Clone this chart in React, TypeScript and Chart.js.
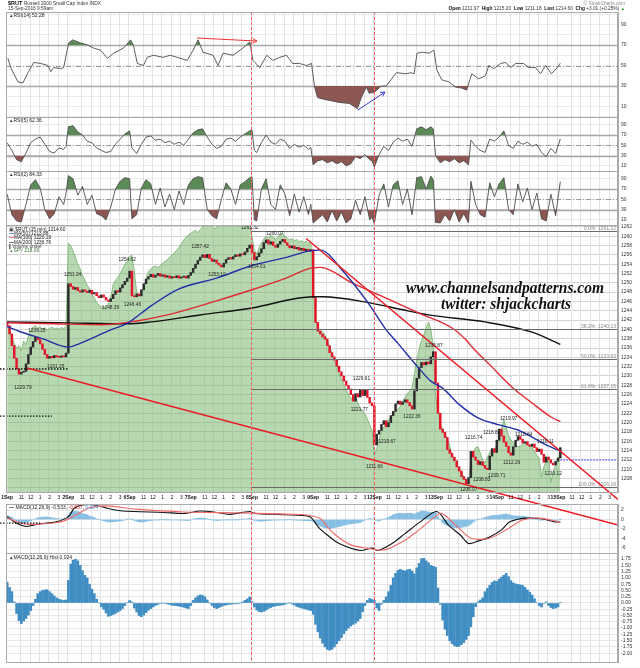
import React, { useEffect, useRef } from "react";
import { Chart, registerables } from "chart.js";
Chart.register(...registerables);

// ---------- axis / category data ----------
const dayLabels = ["1Sep", "2Sep", "6Sep", "7Sep", "8Sep", "9Sep", "12Sep", "13Sep", "14Sep", "15Sep"];
const hourLabels = ["11", "12", "1", "2", "3"];
const hourBars = [6, 10, 14, 18, 22];
const barsPerDay = 26;

const priceTicks = [1206, 1208, 1210, 1212, 1214, 1216, 1218, 1220, 1222, 1224, 1226, 1228, 1230, 1232, 1234, 1236, 1238, 1240, 1242, 1244, 1246, 1248, 1250, 1252, 1254, 1256, 1258, 1260, 1262];
const rsi14Ticks = [0, 10, 20, 30, 40, 50, 60, 70, 80, 90, 100];
const rsiShort = [10, 30, 50, 70, 90];
const macdTicks = [-6, -4, -2, 0, 2];
const histTicks = [-2.0, -1.75, -1.5, -1.25, -1.0, -0.75, -0.5, -0.25, 0, 0.25, 0.5, 0.75, 1.0, 1.25, 1.5, 1.75];

// ---------- price (15 min closes) ----------
const firstOpen = 1241.6;
const closes = [
  1240.8, 1239.0, 1236.5, 1233.8, 1231.5, 1230.4, 1230.8, 1231.0, 1232.6, 1234.6, 1236.2, 1237.4, 1238.3, 1237.8, 1236.9, 1235.7, 1234.6, 1233.8, 1234.2, 1233.9, 1234.4, 1234.1, 1234.0, 1234.3, 1234.1, 1234.9,
  1249.8, 1249.2, 1248.6, 1249.0, 1248.3, 1248.0, 1248.5, 1248.2, 1247.9, 1248.4, 1247.6, 1247.9, 1247.2, 1246.8, 1247.4, 1246.9, 1246.3, 1246.0, 1246.6, 1247.5, 1248.3, 1248.0, 1248.9, 1249.6, 1250.3, 1251.0,
  1252.5, 1247.2, 1247.0, 1247.6, 1247.2, 1248.5, 1249.8, 1250.8, 1251.3, 1251.8, 1251.2, 1251.6, 1252.0, 1251.4, 1251.7, 1251.2, 1251.5, 1251.0, 1251.3, 1251.1, 1251.5, 1251.0, 1251.2, 1251.4, 1251.0, 1251.6,
  1252.2, 1253.1, 1254.0, 1254.8, 1255.5, 1256.0, 1255.4, 1256.1, 1255.2, 1254.6, 1254.9, 1254.2, 1253.8, 1253.4, 1254.2, 1255.0, 1255.4, 1255.1, 1255.6, 1256.0, 1255.7, 1256.2, 1256.0, 1256.6, 1257.4, 1258.1,
  1256.5, 1254.9, 1255.6, 1256.4, 1257.3, 1258.6, 1259.2, 1258.3, 1258.8, 1258.0, 1257.6, 1258.3, 1258.9, 1259.3, 1258.6, 1258.0, 1257.5, 1257.9, 1257.3, 1257.6, 1257.0, 1257.4, 1256.9, 1257.2, 1256.8, 1257.1,
  1246.8, 1241.5, 1239.6, 1239.0, 1238.4, 1237.9, 1236.5, 1235.0, 1234.1, 1233.4, 1232.1, 1230.9, 1230.0, 1228.9, 1228.0, 1227.2, 1226.0, 1224.6, 1226.2, 1225.5, 1227.1, 1225.8, 1226.9, 1225.4, 1224.2, 1223.6,
  1215.2, 1217.5, 1218.3, 1219.6, 1220.4, 1219.1, 1220.0, 1221.5, 1222.4, 1224.0, 1224.6, 1223.9, 1224.4, 1224.9, 1224.3, 1223.6, 1222.9, 1226.8, 1229.5, 1231.8, 1232.9, 1232.4, 1233.0, 1232.6, 1234.1, 1235.2,
  1228.5, 1222.0, 1218.6, 1217.9, 1216.8, 1214.2, 1213.4, 1212.6, 1211.8, 1210.5, 1209.6, 1208.4, 1207.8, 1206.9, 1208.2, 1213.8, 1212.6, 1211.9, 1211.0, 1211.6, 1210.8, 1210.2, 1209.9, 1212.8, 1214.4, 1213.6,
  1216.2, 1218.6, 1217.1, 1215.8, 1214.9, 1213.5, 1213.0, 1214.8, 1216.2, 1217.0, 1216.4, 1215.6, 1215.9, 1215.2, 1214.9, 1215.4, 1214.6, 1213.8, 1214.3, 1213.2, 1211.5, 1212.6, 1212.0, 1211.3, 1210.9, 1211.7,
  1212.4, 1214.6,
];

// SPY comparison area (drawn on the price scale)
const spyArea = [
  1241.0, 1240.0, 1238.5, 1237.0, 1236.0, 1236.5, 1235.5, 1237.5, 1236.8, 1238.5, 1239.8, 1240.5, 1240.8, 1240.2, 1240.6, 1240.0, 1240.4, 1239.8, 1240.2, 1240.5, 1240.1, 1240.3, 1240.0, 1240.4, 1240.2, 1240.6,
  1258.5, 1258.0, 1256.8, 1255.5, 1254.0, 1253.0, 1251.6, 1250.6, 1249.4, 1248.9, 1247.5, 1246.8, 1245.8, 1245.2, 1244.8, 1244.9, 1244.7, 1245.5, 1246.8, 1249.6, 1250.5, 1251.2, 1252.0, 1253.0, 1253.9, 1254.6,
  1255.6, 1255.9, 1252.5, 1248.2, 1247.0, 1247.9, 1248.7, 1251.0, 1252.4, 1253.0, 1253.4, 1253.6, 1253.3, 1253.6, 1254.2, 1254.6, 1254.9, 1255.5, 1256.0, 1256.4, 1257.0, 1257.6, 1258.4, 1259.2, 1259.8, 1260.3,
  1260.6, 1261.0, 1261.3, 1260.8, 1261.4, 1262.0, 1262.4, 1262.4, 1262.4, 1262.4, 1261.6, 1261.9, 1262.4, 1262.4, 1262.4, 1262.4, 1262.4, 1262.4, 1262.4, 1262.4, 1262.4, 1262.4, 1262.4, 1262.4, 1262.4, 1262.4,
  1260.0, 1257.0, 1256.2, 1257.5, 1258.5, 1259.4, 1260.0, 1259.6, 1260.2, 1259.8, 1259.4, 1259.9, 1260.3, 1260.6, 1260.1, 1259.6, 1259.2, 1259.5, 1259.0, 1259.3, 1258.8, 1259.1, 1258.6, 1258.9, 1258.4, 1258.7,
  1249.0, 1242.5, 1240.2, 1239.8, 1239.5, 1238.8, 1237.6, 1236.3, 1235.0, 1233.5, 1232.5, 1230.6, 1229.4, 1228.2, 1227.0, 1226.1, 1225.2, 1224.7, 1225.4, 1224.2, 1223.0, 1222.6, 1221.9, 1220.8, 1219.6, 1218.5,
  1213.0, 1214.5, 1216.5, 1218.0, 1219.0, 1219.8, 1220.6, 1221.2, 1221.8, 1222.6, 1222.8, 1223.5, 1224.6, 1225.4, 1226.2, 1226.8, 1227.4, 1230.5, 1233.5, 1235.8, 1237.6, 1238.8, 1240.4, 1241.6, 1240.0, 1236.5,
  1226.0, 1222.5, 1219.8, 1218.6, 1217.6, 1216.5, 1215.0, 1213.0, 1211.6, 1210.8, 1210.0, 1209.3, 1208.4, 1207.5, 1207.0, 1212.5, 1213.8, 1214.6, 1214.8, 1213.5, 1212.0, 1211.3, 1212.5, 1213.6, 1214.2, 1214.0,
  1215.2, 1216.0, 1218.8, 1220.6, 1219.0, 1217.2, 1216.3, 1215.8, 1215.2, 1214.8, 1215.0, 1215.4, 1215.6, 1215.6, 1215.2, 1214.6, 1213.8, 1213.0, 1212.4, 1208.4, 1210.5, 1212.0, 1212.6, 1207.2, 1209.5, 1211.0,
  1211.4, 1214.8,
];

// moving averages: [bar, value]
const ma50 = [[0, 1240.6], [5, 1239.6], [15, 1238.0], [26, 1236.2], [30, 1236.8], [44, 1239.9], [51, 1241.3], [61, 1245.0], [73, 1248.7], [89, 1251.0], [104, 1253.7], [119, 1255.5], [128, 1256.8], [133, 1257.0], [143, 1252.3], [154, 1245.2], [161, 1239.9], [166, 1237.0], [174, 1232.2], [180, 1228.9], [185, 1227.4], [192, 1223.9], [200, 1221.0], [209, 1219.5], [217, 1218.4], [223, 1216.9], [229, 1215.2], [235, 1213.9]];
const ma100 = [[0, 1241.4], [20, 1241.2], [40, 1241.0], [55, 1241.8], [68, 1243.1], [87.5, 1245.9], [104, 1248.5], [118.5, 1251.0], [129.5, 1253.2], [133, 1253.3], [146.5, 1250.0], [161, 1246.7], [175, 1243.5], [189, 1240.3], [195, 1237.7], [197.5, 1236.2], [206, 1231.9], [214.5, 1227.6], [223, 1224.2], [231, 1221.2], [235, 1220.2]];
const ma200 = [[0, 1241.6], [26, 1241.4], [51, 1241.2], [61, 1241.6], [82, 1243.1], [104, 1244.6], [130, 1247.0], [134, 1247.0], [154, 1245.7], [168, 1244.2], [179, 1243.1], [203, 1241.6], [223, 1239.4], [235, 1236.8]];

// RSI series: [bar, value]
const rsi14 = [[0.3, 57], [1.6, 47.5], [4.6, 34], [6.7, 33], [8.8, 43], [11.3, 53], [14.3, 52], [17.3, 50], [18.5, 44], [19.8, 48], [22.8, 47], [24, 48], [26.1, 72], [27.8, 75], [31.2, 72], [34.2, 70], [36.7, 67], [39.7, 65], [42.6, 57], [45.2, 62], [49.4, 67], [52.4, 75], [53.6, 70], [55.3, 52], [57.9, 50], [59.5, 58], [62.1, 60], [66.3, 58], [69.3, 60], [72.2, 58], [76.5, 55], [79, 65], [81.1, 75], [83.2, 63], [87.5, 60], [89.6, 50], [91.7, 62], [96, 60], [100.1, 67], [103.1, 73], [104.4, 55], [107.3, 48], [110.3, 60], [112.8, 55], [115.8, 58], [118.7, 60], [121.3, 52], [124.2, 52], [127.2, 50], [129.3, 52], [130.6, 29], [131.8, 19], [132.7, 18], [136.9, 16], [141.1, 14], [145.4, 13], [148.8, 8], [150.5, 19], [152.6, 29], [153.8, 23], [156, 24], [158.9, 30], [161, 30], [165.3, 43], [169.5, 42], [171.6, 43], [172.9, 42], [174.1, 62], [176.2, 63], [179.2, 62], [181.3, 65], [182.6, 45], [184.7, 36], [187.7, 34], [190.5, 29], [193.1, 28], [195.2, 26], [197.4, 42], [200.3, 37], [203.2, 40], [204.6, 50], [206.7, 47], [209.6, 52], [211.8, 53], [213.9, 48], [216, 52], [219.4, 52], [221.5, 48], [224.5, 48], [226.6, 42], [228.7, 50], [231.2, 42], [233.4, 47], [235, 52.28]];
const rsi5 = [[0, 55], [2, 40], [4, 22], [6, 18], [8, 35], [10, 55], [12, 62], [14, 66], [16, 52], [18, 38], [20, 35], [22, 45], [24, 42], [25, 48], [26, 86], [28, 88], [30, 76], [32, 70], [34, 58], [36, 55], [38, 45], [40, 40], [42, 36], [44, 38], [46, 52], [48, 62], [50, 72], [52, 78], [53, 45], [55, 34], [57, 52], [59, 66], [61, 68], [63, 60], [65, 62], [67, 55], [69, 58], [71, 52], [73, 56], [75, 50], [77, 62], [79, 74], [81, 80], [83, 82], [85, 66], [87, 52], [89, 44], [91, 48], [93, 62], [95, 64], [97, 58], [99, 66], [101, 72], [103, 78], [104, 80], [105, 40], [106, 36], [108, 55], [110, 70], [112, 56], [114, 52], [116, 62], [118, 58], [120, 44], [122, 52], [124, 46], [126, 50], [128, 42], [129, 46], [130, 12], [132, 20], [134, 22], [136, 16], [138, 20], [140, 14], [142, 18], [144, 10], [146, 14], [148, 28], [150, 24], [152, 32], [154, 22], [155, 20], [156, 8], [158, 32], [160, 48], [162, 40], [164, 56], [166, 64], [168, 58], [170, 62], [172, 48], [174, 82], [176, 86], [178, 80], [180, 86], [181, 82], [182, 30], [184, 16], [186, 22], [188, 18], [190, 24], [192, 16], [194, 20], [196, 12], [197, 60], [199, 48], [201, 40], [203, 36], [205, 62], [207, 58], [209, 66], [211, 78], [213, 50], [215, 44], [217, 58], [219, 52], [221, 56], [223, 48], [225, 52], [227, 36], [229, 28], [231, 44], [233, 34], [235, 62.36]];
const rsi2 = [[0, 60], [2, 20], [4, 8], [6, 6], [8, 40], [10, 78], [12, 88], [14, 72], [16, 30], [18, 12], [20, 22], [22, 55], [24, 40], [25, 62], [26, 96], [28, 90], [30, 58], [32, 75], [34, 40], [36, 58], [38, 22], [40, 18], [42, 10], [44, 35], [46, 70], [48, 85], [50, 92], [52, 90], [53, 12], [55, 20], [57, 72], [59, 88], [61, 80], [63, 40], [65, 72], [67, 35], [69, 60], [71, 30], [73, 66], [75, 40], [77, 78], [79, 90], [81, 94], [83, 92], [85, 30], [87, 18], [89, 12], [91, 50], [93, 82], [95, 70], [97, 40], [99, 78], [101, 84], [103, 92], [104, 94], [105, 10], [106, 8], [108, 70], [110, 90], [112, 40], [114, 30], [116, 78], [118, 60], [120, 18], [122, 60], [124, 25], [126, 55], [128, 20], [129, 40], [130, 4], [132, 12], [134, 20], [136, 6], [138, 28], [140, 8], [142, 25], [144, 4], [146, 12], [148, 48], [150, 20], [152, 55], [154, 10], [155, 15], [156, 3], [158, 58], [160, 80], [162, 35], [164, 78], [166, 86], [168, 40], [170, 70], [172, 20], [174, 92], [176, 94], [178, 70], [180, 95], [181, 88], [182, 5], [184, 4], [186, 20], [188, 8], [190, 30], [192, 6], [194, 22], [196, 4], [197, 85], [199, 40], [201, 20], [203, 15], [205, 82], [207, 55], [209, 80], [211, 92], [213, 30], [215, 20], [217, 80], [219, 45], [221, 72], [223, 30], [225, 62], [227, 12], [229, 8], [231, 60], [233, 18], [235, 84.33]];

// MACD(12,26,9): [bar, value]
const macdLine = [[0, 0.6], [4, -0.8], [8, -1.5], [11, -1.2], [16, -0.8], [21, -0.5], [26, 0.6], [28.5, 2.4], [32, 3.1], [37, 3.1], [42.5, 2.4], [49, 1.8], [66.5, 1.5], [75.5, 1.3], [82, 1.8], [89, 1.5], [94.5, 1.1], [103, 1.7], [105, 1.3], [118.5, 1.0], [128.5, 0.6], [132.5, -1.8], [136, -3.3], [141, -5.1], [150, -6.6], [155, -6.1], [157.5, -6.6], [163.5, -5.1], [169, -3.0], [175.5, -0.5], [182.5, 1.7], [187.5, -1.2], [192.5, -3.3], [196, -5.1], [200, -4.6], [205, -3.7], [210, -2.2], [213.5, -0.5], [220.5, 0.3], [227.5, 0.1], [232.5, -0.5], [235, -0.533]];
const signalLine = [[0, 0.3], [8, -1.0], [22, -0.6], [26, 0.1], [30, 1.2], [35, 2.5], [42, 2.9], [55, 2.2], [75, 1.6], [100, 1.4], [125, 1.05], [130, 0.7], [133, 0.2], [136, -1.5], [139.5, -3.3], [146, -5.4], [153, -6.1], [160, -6.5], [169, -4.4], [174, -2.6], [181, 0.3], [184.5, 1.3], [190.5, -1.2], [196, -3.7], [199, -4.2], [205, -4.0], [212, -2.2], [219, -0.1], [226, 0.3], [235, -0.557]];
const histogram = [
  0.83, 0.62, 0.45, 0.04, -0.42, -0.70, -0.82, -0.72, -0.62, -0.48, -0.30, -0.10, 0.15, 0.37, 0.45, 0.50, 0.52, 0.53, 0.45, 0.37, 0.28, 0.20, 0.15, 0.12, 0.10, 0.12,
  0.90, 1.55, 1.70, 1.74, 1.68, 1.50, 1.29, 1.10, 1.00, 0.75, 0.55, 0.37, 0.15, 0.00, -0.15, -0.25, -0.40, -0.53, -0.50, -0.46, -0.42, -0.36, -0.30, -0.22, -0.10, 0.02,
  0.10, 0.04, -0.20, -0.36, -0.50, -0.55, -0.48, -0.38, -0.29, -0.22, -0.16, -0.10, -0.06, -0.02, 0.00, -0.02, -0.04, -0.06, -0.09, -0.10, -0.11, -0.13, -0.15, -0.17, -0.20, -0.22,
  -0.10, 0.10, 0.20, 0.28, 0.32, 0.30, 0.24, 0.12, 0.00, -0.10, -0.18, -0.22, -0.18, -0.14, -0.10, -0.08, -0.06, -0.05, -0.04, -0.03, -0.03, 0.00, 0.04, 0.10, 0.16, 0.24,
  0.05, -0.16, -0.28, -0.34, -0.36, -0.33, -0.28, -0.22, -0.18, -0.14, -0.12, -0.10, -0.09, -0.08, -0.05, -0.02, 0.00, -0.04, -0.08, -0.14, -0.17, -0.20, -0.22, -0.25, -0.28, -0.30,
  -0.45, -0.85, -1.15, -1.40, -1.60, -1.75, -1.85, -1.88, -1.84, -1.75, -1.62, -1.50, -1.38, -1.22, -1.10, -1.00, -0.92, -0.85, -0.80, -0.72, -0.62, -0.35, -0.10, 0.10, 0.18, 0.14,
  0.10, -0.20, -0.30, -0.05, 0.10, 0.24, 0.45, 0.70, 1.00, 1.18, 1.30, 1.34, 1.30, 1.28, 1.32, 1.34, 1.28, 1.16, 1.40, 1.58, 1.76, 1.78, 1.68, 1.60, 1.50, 1.46,
  1.42, 0.60, -0.05, -0.68, -1.05, -1.30, -1.50, -1.62, -1.70, -1.74, -1.72, -1.66, -1.58, -1.45, -1.30, -0.95, -0.55, -0.15, 0.05, 0.12, 0.20, 0.45, 0.58, 0.70, 0.82, 0.88,
  0.86, 0.95, 1.03, 1.10, 1.18, 1.05, 0.89, 0.80, 0.76, 0.74, 0.72, 0.70, 0.62, 0.52, 0.43, 0.32, 0.17, 0.02, -0.10, -0.16, -0.02, 0.04, -0.10, -0.18, -0.22, -0.20,
  -0.16, 0.024,
];

// annotations
const fibLevels = [1261.12, 1240.13, 1233.63, 1227.15, 1206.18];
const fibNames = ["0.0%", "38.2%", "50.0%", "61.8%", "100.0%"];
const fibStartBar = 103.5;
const trendLines = [[127, 1259.5, 259.5, 1203.5], [8.4, 1231.7, 259.5, 1198.0]];
const supportLines = [[1231.5, 26], [1221.4, 19]];
const macdSupport = [-0.75, 14];
const openLevel = [1211.97, 235];
const markerBars = [103.5, 156];
const rsiArrowRed = [80.6, 76.8, 106.1, 73.9];
const rsiArrowBlue = [149, 6.6, 160.5, 24.1];
const priceNotes: [number, number, string][] = [
  [103.1, 1261.8, "1261.32"], [113.7, 1260.5, "1260.07"], [82, 1257.7, "1257.42"], [106, 1253.4, "1254.61"],
  [89.1, 1251.7, "1253.10"], [51, 1254.9, "1254.62"], [27.8, 1251.7, "1251.24"], [43.9, 1244.6, "1248.39"],
  [53.2, 1245.2, "1246.46"], [12.6, 1239.7, "1239.25"], [20.6, 1232.1, "1231.25"], [6.7, 1227.4, "1229.79"],
  [150.5, 1229.4, "1229.61"], [149.6, 1222.7, "1221.77"], [156, 1210.5, "1211.66"], [161.4, 1215.8, "1219.67"],
  [172, 1221.2, "1222.36"], [181.3, 1236.4, "1235.87"], [196.1, 1205.6, "1206.07"], [198.2, 1216.7, "1216.74"],
  [201.6, 1207.7, "1208.83"], [205.8, 1217.8, "1218.81"], [208, 1208.7, "1209.71"], [213, 1220.8, "1219.97"],
  [214.3, 1211.3, "1212.29"], [219.4, 1217.3, "1218.64"], [228.7, 1216.0, "1218.11"], [232, 1209.1, "1210.12"],
];

// ---------- drawing helpers ----------
const F = "'Liberation Sans', Arial, sans-serif";
const N = (s: number) => `${s}px ${F}`;
const B = (s: number) => `bold ${s}px ${F}`;

function line(ctx: any, x1: number, y1: number, x2: number, y2: number) {
  ctx.beginPath();
  ctx.moveTo(x1, y1);
  ctx.lineTo(x2, y2);
  ctx.stroke();
}
function arrow(ctx: any, x1: number, y1: number, x2: number, y2: number, color: string) {
  ctx.strokeStyle = color;
  ctx.fillStyle = color;
  ctx.lineWidth = 1;
  ctx.setLineDash([]);
  line(ctx, x1, y1, x2, y2);
  const a = Math.atan2(y2 - y1, x2 - x1);
  const h = 5;
  ctx.beginPath();
  ctx.moveTo(x2 - h * Math.cos(a - 0.5), y2 - h * Math.sin(a - 0.5));
  ctx.lineTo(x2, y2);
  ctx.lineTo(x2 - h * Math.cos(a + 0.5), y2 - h * Math.sin(a + 0.5));
  ctx.stroke();
}
function segs(ctx: any, parts: [string, string, string][], x: number, y: number, align: "left" | "right") {
  let total = 0;
  for (const [t, f] of parts) {
    ctx.font = f;
    total += ctx.measureText(t).width;
  }
  let cx = align === "left" ? x : x - total;
  ctx.textAlign = "left";
  for (const [t, f, c] of parts) {
    ctx.font = f;
    ctx.fillStyle = c;
    ctx.fillText(t, cx, y);
    cx += ctx.measureText(t).width;
  }
}

const panelIds = ["rsi14", "rsi5", "rsi2", "price", "macd", "hist"];

const overlay = {
  id: "overlay",
  beforeDatasetsDraw(chart: any) {
    const { ctx, chartArea: ca, scales } = chart;
    const xs = scales.x;
    ctx.save();
    ctx.strokeStyle = "#e3e3e3";
    ctx.lineWidth = 1;
    for (let d = 0; d < dayLabels.length; d++) {
      for (const off of [0, ...hourBars]) {
        const px = Math.round(xs.getPixelForValue(d * barsPerDay + off - 0.5)) + 0.5;
        for (const id of panelIds) {
          const s = scales[id];
          line(ctx, px, s.top, px, s.bottom);
        }
      }
    }
    for (const id of ["rsi14", "rsi5", "rsi2"]) {
      const s = scales[id];
      ctx.setLineDash([]);
      ctx.strokeStyle = "#a9a9a9";
      ctx.lineWidth = 1.3;
      for (const v of [70, 30]) {
        const py = Math.round(s.getPixelForValue(v)) + 0.5;
        line(ctx, ca.left, py, ca.right, py);
      }
      ctx.setLineDash([5, 2, 1, 2]);
      ctx.strokeStyle = "#999";
      ctx.lineWidth = 1;
      const py = Math.round(s.getPixelForValue(50)) + 0.5;
      line(ctx, ca.left, py, ca.right, py);
    }
    ctx.restore();
  },
  afterDatasetsDraw(chart: any) {
    const { ctx, chartArea: ca, scales } = chart;
    const xs = scales.x;
    const ps = scales.price;
    const X = (i: number) => xs.getPixelForValue(i);
    const P = (v: number) => ps.getPixelForValue(v);
    ctx.save();
    ctx.textBaseline = "middle";

    // fibonacci levels
    const fx = X(fibStartBar);
    fibLevels.forEach((lv, k) => {
      const y = Math.round(P(lv)) + 0.5;
      ctx.setLineDash([]);
      ctx.strokeStyle = "#6a6a6a";
      ctx.lineWidth = 1.2;
      line(ctx, fx, y, ca.right, y);
      ctx.font = N(5);
      ctx.fillStyle = "#8a8a8a";
      ctx.textAlign = "right";
      ctx.fillText(`${fibNames[k]}: ${lv.toFixed(2)}`, ca.right - 2, y - 3);
    });

    // dotted support lines
    ctx.setLineDash([1.5, 1.5]);
    ctx.strokeStyle = "#111";
    ctx.lineWidth = 1.3;
    for (const [lv, endBar] of supportLines) {
      const y = P(lv);
      line(ctx, 0, y, X(endBar), y);
    }
    const my = scales.macd.getPixelForValue(macdSupport[0]);
    line(ctx, 0, my, X(macdSupport[1]), my);
    ctx.strokeStyle = "#7070ff";
    const oy = P(openLevel[0]);
    line(ctx, X(openLevel[1]), oy, ca.right, oy);

    // trendlines
    ctx.save();
    ctx.beginPath();
    ctx.rect(ca.left, ca.top, ca.right - ca.left, ca.bottom - ca.top);
    ctx.clip();
    ctx.setLineDash([]);
    ctx.strokeStyle = "#ec1c24";
    ctx.lineWidth = 1.5;
    for (const [i1, p1, i2, p2] of trendLines) line(ctx, X(i1), P(p1), X(i2), P(p2));
    ctx.restore();

    // red dashed markers
    ctx.setLineDash([3, 2]);
    ctx.strokeStyle = "#ff5a5a";
    ctx.lineWidth = 1;
    for (const i of markerBars) {
      const x = Math.round(X(i)) + 0.5;
      line(ctx, x, ca.top, x, ca.bottom);
    }

    // arrows in RSI(14)
    const rs = scales.rsi14;
    arrow(ctx, X(rsiArrowRed[0]), rs.getPixelForValue(rsiArrowRed[1]), X(rsiArrowRed[2]), rs.getPixelForValue(rsiArrowRed[3]), "#f03030");
    arrow(ctx, X(rsiArrowBlue[0]), rs.getPixelForValue(rsiArrowBlue[1]), X(rsiArrowBlue[2]), rs.getPixelForValue(rsiArrowBlue[3]), "#3a3ad8");

    // price notes
    ctx.font = N(4.8);
    ctx.fillStyle = "#222";
    ctx.textAlign = "center";
    for (const [i, p, t] of priceNotes) ctx.fillText(t, X(i), P(p));

    // watermark
    ctx.fillStyle = "#111";
    ctx.textAlign = "center";
    ctx.font = "italic bold 16px 'Liberation Serif', serif";
    ctx.fillText("www.channelsandpatterns.com", 505, 289, 198);
    ctx.fillText("twitter: shjackcharts", 506, 305, 130);

    // panel borders
    ctx.setLineDash([]);
    ctx.strokeStyle = "#aaaaaa";
    ctx.lineWidth = 1;
    for (const id of panelIds) {
      const s = scales[id];
      ctx.strokeRect(ca.left + 0.5, Math.round(s.top) + 0.5, ca.right - ca.left - 1, Math.round(s.bottom - s.top));
    }

    // x-axis strip labels
    const sy = (scales.spacer.top + scales.spacer.bottom) / 2;
    ctx.fillStyle = "#111";
    for (let d = 0; d < dayLabels.length; d++) {
      ctx.font = B(5);
      let dx = X(d * barsPerDay);
      const w = ctx.measureText(dayLabels[d]).width;
      if (dx - w / 2 < 1) dx = 1 + w / 2;
      ctx.textAlign = "center";
      ctx.fillText(dayLabels[d], dx, sy);
      ctx.font = N(5);
      hourBars.forEach((hb, k) => ctx.fillText(hourLabels[k], X(d * barsPerDay + hb), sy));
    }

    // panel legends
    const lx = ca.left + 3;
    segs(ctx, [["\u25B2", N(4.5), "#334"], ["RSI(14) 52.28", N(5), "#222"]], lx, scales.rsi14.top + 4, "left");
    segs(ctx, [["\u25B2", N(4.5), "#334"], ["RSI(5) 62.36", N(5), "#222"]], lx, scales.rsi5.top + 4, "left");
    segs(ctx, [["\u25B2", N(4.5), "#334"], ["RSI(2) 84.33", N(5), "#222"]], lx, scales.rsi2.top + 4, "left");
    const ly = ps.top + 4.5;
    segs(ctx, [["\u25A3 ", N(4.5), "#333"], ["$RUT (15 min) 1214.60", N(4.8), "#222"]], lx, ly, "left");
    segs(ctx, [["\u2014", B(5), "#2230a8"], ["MA(50) 1213.88", N(4.8), "#222"]], lx, ly + 4.3, "left");
    segs(ctx, [["\u2014", B(5), "#e02a30"], ["MA(100) 1220.19", N(4.8), "#222"]], lx, ly + 8.6, "left");
    segs(ctx, [["\u2014", B(5), "#111"], ["MA(200) 1236.76", N(4.8), "#222"]], lx, ly + 12.9, "left");
    segs(ctx, [["\u258C", N(4.5), "#777"], ["Volume undef", N(4.8), "#444"]], lx, ly + 17.2, "left");
    segs(ctx, [["\u25B2", N(4.5), "#5a9a50"], ["SPY 218.06", N(4.8), "#3d7a35"]], lx, ly + 21.5, "left");
    segs(ctx, [["\u2014 ", B(5), "#111"], ["MACD(12,26,9) -0.533, ", N(5), "#222"], ["-0.557", N(5), "#e03030"], [", ", N(5), "#222"], ["0.024", N(5), "#3f8fd0"]], lx, scales.macd.top + 4, "left");
    segs(ctx, [["\u25B2", N(4.5), "#334"], ["MACD(12,26,9) Hist 0.024", N(5), "#222"]], lx, scales.hist.top + 5, "left");

    // header
    segs(ctx, [["$RUT ", B(5.5), "#111"], ["Russell 2000 Small Cap Index INDX", N(4.8), "#333"]], 8, 3.5, "left");
    segs(ctx, [["15-Sep-2016 9:59am", N(4.8), "#333"]], 8, 9, "left");
    segs(ctx, [["\u00A9 StockCharts.com", N(4.8), "#888"]], 625, 3.5, "right");
    segs(ctx, [
      ["Open ", B(4.8), "#111"], ["1211.97  ", N(4.8), "#333"],
      ["High ", B(4.8), "#111"], ["1215.20  ", N(4.8), "#333"],
      ["Low ", B(4.8), "#111"], ["1211.18  ", N(4.8), "#333"],
      ["Last ", B(4.8), "#111"], ["1214.60  ", N(4.8), "#333"],
      ["Chg ", B(4.8), "#111"], ["+3.01 (+0.25%) ", N(4.8), "#333"], ["\u25B2", N(4.5), "#2a9a2a"],
    ], 625, 9, "right");
    ctx.restore();
  },
};

function yScale(weight: number, stackWeight: number, min: number, max: number, ticks: number[], label: (v: number) => string, grid: string) {
  return {
    type: "linear",
    position: "right",
    stack: "panels",
    stackWeight,
    weight,
    min,
    max,
    afterBuildTicks: (s: any) => {
      s.ticks = ticks.map((v) => ({ value: v }));
    },
    afterFit: (s: any) => {
      s.width = 22;
    },
    ticks: { callback: (v: any) => label(Number(v)), font: { size: 5, family: F }, color: "#333", padding: 3, autoSkip: false, maxRotation: 0 },
    grid: { color: grid, lineWidth: 1, drawTicks: false },
    border: { display: true, color: "#aaaaaa" },
  };
}

function buildConfig() {
  const opens = closes.map((c, i) => (i === 0 ? firstOpen : closes[i - 1]));
  const pts = (arr: number[][]) => arr.map(([x, y]) => ({ x, y }));
  const rsiSets = (id: string, arr: number[][]) => [
    {
      type: "line", yAxisID: id, data: pts(arr), borderColor: "#4d4d4d", borderWidth: 0.9, pointRadius: 0, tension: 0,
      fill: { target: { value: 70 }, above: "#5c8a57", below: "rgba(0,0,0,0)" }, order: 1,
    },
    {
      type: "line", yAxisID: id, data: pts(arr), borderColor: "rgba(0,0,0,0)", borderWidth: 0, pointRadius: 0, tension: 0,
      fill: { target: { value: 30 }, above: "rgba(0,0,0,0)", below: "#8c5753" }, order: 2,
    },
  ];
  const maSet = (arr: number[][], color: string) => ({
    type: "line", yAxisID: "price", data: pts(arr), borderColor: color, borderWidth: 1.4, pointRadius: 0,
    tension: 0.4, cubicInterpolationMode: "monotone", fill: false, order: 3,
  });
  const rsiLbl14 = (v: number) => (rsiShort.includes(v) ? String(v) : "");
  return {
    type: "line",
    data: {
      datasets: [
        {
          type: "line", yAxisID: "price", data: spyArea.map((y, x) => ({ x, y })), fill: "start",
          backgroundColor: "rgba(112,178,98,0.5)", borderColor: "rgba(95,160,85,0.8)", borderWidth: 0.8,
          pointRadius: 0, tension: 0, order: 10,
        },
        {
          type: "bar", yAxisID: "price", data: closes.map((c, x) => ({ x, y: [opens[x], c] })),
          backgroundColor: closes.map((c, i) => (c >= opens[i] ? "#2b2b2b" : "#e3162a")),
          barThickness: 1.8, grouped: false, minBarLength: 1, order: 5,
        },
        maSet(ma50, "#2230a8"),
        maSet(ma100, "#e02a30"),
        maSet(ma200, "#111111"),
        ...rsiSets("rsi14", rsi14),
        ...rsiSets("rsi5", rsi5),
        ...rsiSets("rsi2", rsi2),
        {
          type: "bar", yAxisID: "macd", data: histogram.map((y, x) => ({ x, y })), backgroundColor: "#86bfe3",
          barThickness: 2, grouped: false, order: 6,
        },
        { type: "line", yAxisID: "macd", data: pts(macdLine), borderColor: "#111", borderWidth: 1.1, pointRadius: 0, tension: 0.3, fill: false, order: 2 },
        { type: "line", yAxisID: "macd", data: pts(signalLine), borderColor: "#f06a6a", borderWidth: 1.1, pointRadius: 0, tension: 0.3, fill: false, order: 1 },
        {
          type: "bar", yAxisID: "hist", data: histogram.map((y, x) => ({ x, y })), backgroundColor: "#3f8dc3",
          barThickness: 2, grouped: false, order: 1,
        },
      ],
    },
    options: {
      responsive: false,
      maintainAspectRatio: false,
      animation: false,
      devicePixelRatio: 1,
      layout: { padding: { top: 12, bottom: 6, left: 6, right: 0 } },
      plugins: { legend: { display: false }, tooltip: { enabled: false } },
      scales: {
        x: { type: "linear", min: -0.5, max: 259.5, display: false, offset: false },
        rsi14: yScale(1, 105, -0.2, 102.2, rsi14Ticks, rsiLbl14, "#ececec"),
        rsi5: yScale(2, 54, 0, 105, rsiShort, (v) => String(v), "#ececec"),
        rsi2: yScale(3, 54, 0, 105, rsiShort, (v) => String(v), "#ececec"),
        price: yScale(4, 267, 1205.1, 1262.4, priceTicks, (v) => (v >= 1207 ? String(v) : ""), "#d4d4d4"),
        spacer: {
          type: "linear", position: "right", stack: "panels", stackWeight: 12, weight: 5, min: 0, max: 1,
          ticks: { display: false }, grid: { display: false }, border: { display: false },
          afterFit: (s: any) => { s.width = 22; },
        },
        macd: yScale(6, 49, -7.13, 3.3, macdTicks, (v) => String(v), "#e6e6e6"),
        hist: yScale(7, 109, -2.35, 1.99, histTicks, (v) => v.toFixed(2), "#e6e6e6"),
      },
    },
    plugins: [overlay],
  };
}

export default function App() {
  const ref = useRef<HTMLCanvasElement | null>(null);
  useEffect(() => {
    const canvas = ref.current;
    if (!canvas) return;
    const chart = new Chart(canvas, buildConfig() as any);
    return () => chart.destroy();
  }, []);
  return (
    <div style={{ position: "fixed", left: 0, top: 0, width: 640, height: 668, background: "#fff" }}>
      <canvas ref={ref} width={640} height={668} style={{ display: "block", width: "640px", height: "668px" }} />
    </div>
  );
}
